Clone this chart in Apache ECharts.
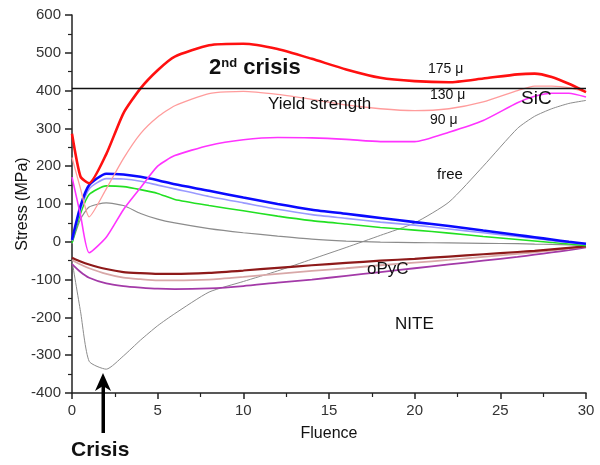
<!DOCTYPE html>
<html>
<head>
<meta charset="utf-8">
<script src="https://cdn.jsdelivr.net/npm/echarts@6/dist/echarts.min.js"></script>
<style>
html,body{margin:0;padding:0;background:#fff;}
#main{width:600px;height:465px;}
</style>
</head>
<body>
<div id="main"></div>
<script>
// fluence points shared by all curves
var fluence = [0, 0.5, 1, 2, 3, 4, 5, 6, 8, 10, 12, 14, 16, 18, 20, 22, 24, 26, 27, 28, 29, 30];

var sic175 = [286, 172, 155, 232, 340, 406, 454, 490, 520, 524, 510, 484, 456, 434, 425, 422, 432, 443, 445, 436, 418, 396];
var sic130 = [223, 140, 66, 140, 220, 286, 330, 360, 392, 398, 390, 377, 362, 352, 347, 352, 370, 400, 412, 412, 408, 396];
var sic90 = [171, 70, -29, 12, 85, 143, 200, 228, 255, 270, 276, 275, 271, 265, 265, 290, 321, 368, 385, 393, 393, 383];
var sicFree = [-50, -185, -316, -337, -302, -260, -222, -190, -133, -105, -77, -46, -15, 17, 50, 105, 200, 300, 332, 352, 366, 374];

var ipyc1 = [5, 95, 150, 180, 178, 172, 163, 152, 135, 117, 100, 85, 74, 63, 52, 42, 30, 18, 12, 6, 0, -5];
var ipyc2 = [3, 85, 140, 167, 166, 160, 150, 140, 120, 103, 86, 72, 62, 52, 44, 34, 24, 14, 9, 3, -2, -7];
var ipyc3 = [-3, 75, 125, 148, 146, 138, 128, 112, 96, 82, 68, 56, 47, 38, 31, 23, 14, 6, 2, -2, -6, -10];
var ipyc4 = [-5, 60, 92, 103, 96, 75, 60, 50, 35, 24, 15, 7, 2, -1, -2, -3, -4, -5, -6, -7, -8, -10];

var opyc1 = [-42, -52, -60, -72, -80, -83, -85, -85, -82, -76, -69, -62, -56, -50, -45, -39, -33, -27, -24, -20, -16, -12];
var opyc2 = [-48, -60, -70, -85, -95, -99, -102, -102, -100, -93, -85, -77, -70, -62, -55, -48, -40, -32, -28, -23, -18, -13];
var opyc3 = [-59, -80, -95, -110, -117, -121, -124, -125, -123, -117, -108, -100, -90, -80, -70, -60, -50, -40, -34, -28, -22, -15];

var yieldStrength = 405;

function pairs(yArr){
	var out = [];
	for(var i=0;i<fluence.length;i++){
		out.push([fluence[i], yArr[i]]);
	}
	return out;
}

function lineSeries(name, yArr, color, width){
	return {
		name: name,
		type: 'line',
		data: pairs(yArr),
		smooth: 0.2,
		symbol: 'none',
		lineStyle: { color: color, width: width },
		z: 3
	};
}

var chart = echarts.init(document.getElementById('main'));

var seriesArr = [
	lineSeries('free', sicFree, '#8c8c8c', 1),
	lineSeries('i4', ipyc4, '#8c8c8c', 1.2),
	lineSeries('o3', opyc3, '#a33aa8', 1.8),
	lineSeries('o2', opyc2, '#d8a8a8', 1.8),
	lineSeries('o1', opyc1, '#8e1a1a', 2.2),
	lineSeries('i3', ipyc3, '#22e022', 1.6),
	lineSeries('i2', ipyc2, '#9a9aff', 1.6),
	lineSeries('i1', ipyc1, '#0a0aff', 2.6),
	lineSeries('90', sic90, '#ff33ff', 1.6),
	lineSeries('130', sic130, '#ff9c9c', 1.3),
	lineSeries('175', sic175, '#ff1010', 2.6)
];
seriesArr[0].markLine = {
	silent: true,
	symbol: 'none',
	label: { show: false },
	lineStyle: { color: '#111', width: 1.4, type: 'solid' },
	data: [{ yAxis: yieldStrength }]
};

var txt = '#111';
var font = '"Liberation Sans", Arial, sans-serif';

function label(x, y, text, size, bold){
	return {
		type: 'text', x: x, y: y, z: 10,
		style: { text: text, fill: txt, font: (bold ? 'bold ' : '') + size + 'px ' + font }
	};
}

var option = {
	animation: false,
	backgroundColor: '#fff',
	grid: { left: 72, right: 14, top: 15, bottom: 72, containLabel: false, outerBoundsMode: 'none' },
	xAxis: {
		type: 'value', min: 0, max: 30, interval: 5,
		name: 'Fluence', nameLocation: 'middle', nameGap: 33, nameMoveOverlap: false,
		nameTextStyle: { color: txt, fontSize: 16, fontFamily: font },
		axisLine: { show: true, onZero: false, lineStyle: { color: '#222', width: 1.5 } },
		axisTick: { show: true, length: 6, lineStyle: { color: '#222', width: 1.5 } },
		minorTick: { show: true, splitNumber: 2, length: 4, lineStyle: { color: '#222', width: 1.2 } },
		axisLabel: { color: '#333', fontSize: 15, fontFamily: font, margin: 10 },
		splitLine: { show: false }
	},
	yAxis: {
		type: 'value', min: -400, max: 600, interval: 100,
		name: 'Stress (MPa)', nameLocation: 'middle', nameGap: 41, nameMoveOverlap: false,
		nameTextStyle: { color: txt, fontSize: 16, fontFamily: font },
		axisLine: { show: true, onZero: false, lineStyle: { color: '#222', width: 1.5 } },
		axisTick: { show: true, length: 7, lineStyle: { color: '#222', width: 1.5 } },
		minorTick: { show: true, splitNumber: 2, length: 4, lineStyle: { color: '#222', width: 1.2 } },
		axisLabel: { color: '#333', fontSize: 15, fontFamily: font, margin: 11 },
		splitLine: { show: false }
	},
	series: seriesArr,
	graphic: [
		{
			type: 'text', x: 209, y: 57, z: 10,
			style: {
				text: '{a|2}{s|nd}{a| crisis}',
				rich: {
					a: { fontSize: 22, fontWeight: 'bold', fontFamily: font, fill: txt, color: txt },
					s: { fontSize: 13, fontWeight: 'bold', fontFamily: font, fill: txt, color: txt, verticalAlign: 'top', padding: [0, 0, 9, 0] }
				}
			}
		},
		label(268, 96, 'Yield strength', 17, false),
		label(428, 62, '175 μ', 14, false),
		label(430, 88, '130 μ', 14, false),
		label(430, 113, '90 μ', 14, false),
		label(521, 89, 'SiC', 19, false),
		label(437, 167, 'free', 15, false),
		label(367, 261, 'oPyC', 17, false),
		label(395, 316, 'NITE', 17, false),
		label(71, 440, 'Crisis', 21, true),
		// arrow pointing at the crisis point
		{ type: 'rect', z: 10, shape: { x: 101.5, y: 384, width: 3.5, height: 49 }, style: { fill: '#000' } },
		{ type: 'polygon', z: 10, shape: { points: [[103, 373], [95, 391], [103, 386], [111, 391]] }, style: { fill: '#000' } }
	]
};
chart.setOption(option);
</script>
</body>
</html>
